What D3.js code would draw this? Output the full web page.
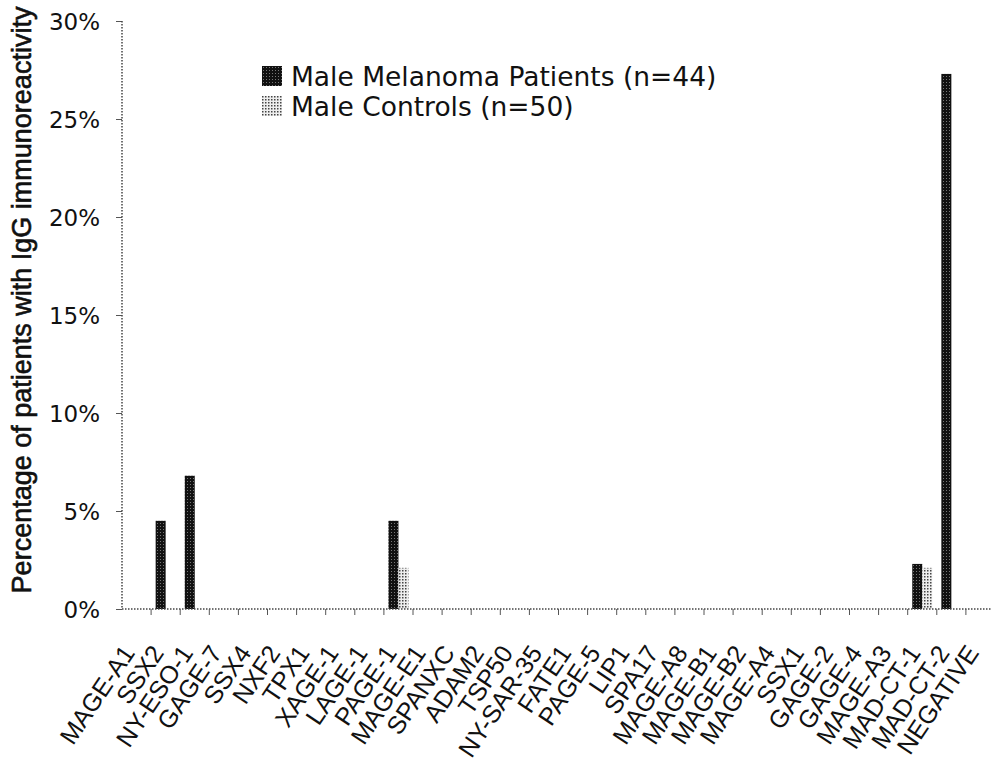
<!DOCTYPE html>
<html>
<head>
<meta charset="utf-8">
<script src="https://cdn.jsdelivr.net/npm/d3@7"></script>
<style>
  body { margin: 0; background: #fff; }
  text { font-family: 'DejaVu Sans', sans-serif; fill: #111; }
</style>
</head>
<body>
<script>
const antigens = [
  'MAGE-A1', 'SSX2', 'NY-ESO-1', 'GAGE-7', 'SSX4', 'NXF2', 'TPX1', 'XAGE-1',
  'LAGE-1', 'PAGE-1', 'MAGE-E1', 'SPANXC', 'ADAM2', 'TSP50', 'NY-SAR-35',
  'FATE1', 'PAGE-5', 'LIP1', 'SPA17', 'MAGE-A8', 'MAGE-B1', 'MAGE-B2',
  'MAGE-A4', 'SSX1', 'GAGE-2', 'GAGE-4', 'MAGE-A3', 'MAD-CT-1', 'MAD-CT-2',
  'NEGATIVE',
];

// fraction of patients
const patients = [
  0, 0.045, 0.068, 0, 0, 0, 0, 0, 0, 0.045, 0, 0, 0, 0, 0,
  0, 0, 0, 0, 0, 0, 0, 0, 0, 0, 0, 0, 0.023, 0.273, 0,
];
const controls = [
  0, 0, 0, 0, 0, 0, 0, 0, 0, 0.021, 0, 0, 0, 0, 0,
  0, 0, 0, 0, 0, 0, 0, 0, 0, 0, 0, 0, 0.021, 0, 0,
];

const seriesNames = ['Male Melanoma Patients (n=44)', 'Male Controls (n=50)'];
const yTicks = [0, 0.05, 0.1, 0.15, 0.2, 0.25, 0.3];

const w = 992;
const h = 761;

const svg = d3.select('body').append('svg').attr('width', w).attr('height', h);

// patterns for the two series
const defs = svg.append('defs');
const dark = defs
  .append('pattern')
  .attr('id', 'dark')
  .attr('width', 3)
  .attr('height', 3)
  .attr('patternUnits', 'userSpaceOnUse');
dark.append('rect').attr('width', 3).attr('height', 3).attr('fill', '#111');
dark.append('rect').attr('x', 1).attr('y', 1).attr('width', 1).attr('height', 1).attr('fill', '#777');

const light = defs
  .append('pattern')
  .attr('id', 'light')
  .attr('width', 3)
  .attr('height', 3)
  .attr('patternUnits', 'userSpaceOnUse');
light.append('rect').attr('width', 3).attr('height', 3).attr('fill', '#eee');
light.append('rect').attr('width', 1.5).attr('height', 1.5).attr('fill', '#444');

const fills = ['url(#dark)', 'url(#light)'];

const xScale = d3.scaleBand().domain(antigens).range([122, 995]);
const xInner = d3
  .scaleBand()
  .domain([0, 1])
  .range([0, xScale.bandwidth()])
  .paddingOuter(0.455);
const yScale = d3.scaleLinear().domain([0, 0.3]).range([609, 21]);

// y axis
const yAxis = d3
  .axisLeft(yScale)
  .tickValues(yTicks)
  .tickFormat(d3.format('.0%'))
  .tickSize(6)
  .tickPadding(16);

const yG = svg.append('g').attr('transform', 'translate(122,0)').call(yAxis);
yG.selectAll('text').style('font-size', '23px').attr('dy', '0.35em');
yG.selectAll('line').attr('stroke', '#555');
yG.select('.domain').remove();

svg
  .append('line')
  .attr('x1', 122)
  .attr('x2', 122)
  .attr('y1', yScale(0.3))
  .attr('y2', yScale(0))
  .attr('stroke', '#444')
  .attr('stroke-width', 1.5)
  .attr('stroke-dasharray', '1.5,1.5');

// bars
antigens.forEach((a, i) => {
  [patients[i], controls[i]].forEach((v, s) => {
    if (!v) return;
    svg
      .append('rect')
      .attr('x', xScale(a) + xInner(s))
      .attr('y', yScale(v))
      .attr('width', xInner.bandwidth())
      .attr('height', yScale(0) - yScale(v))
      .attr('fill', fills[s]);
  });
});

// x axis line and ticks
svg
  .append('line')
  .attr('x1', 122)
  .attr('x2', 995)
  .attr('y1', yScale(0))
  .attr('y2', yScale(0))
  .attr('stroke', '#444')
  .attr('stroke-width', 1.5)
  .attr('stroke-dasharray', '1.5,1.5');

svg
  .selectAll('.xtick')
  .data(antigens.slice(1))
  .enter()
  .append('line')
  .attr('class', 'xtick')
  .attr('x1', (d) => xScale(d))
  .attr('x2', (d) => xScale(d))
  .attr('y1', yScale(0))
  .attr('y2', yScale(0) + 6)
  .attr('stroke', '#555');

svg
  .selectAll('.xlabel')
  .data(antigens)
  .enter()
  .append('text')
  .attr('class', 'xlabel')
  .attr('text-anchor', 'end')
  .attr('dy', '0.35em')
  .style('font-family', 'Liberation Sans, Arial, sans-serif')
  .style('font-size', '25px')
  .attr('transform', (d) => {
    const cx = xScale(d) + xScale.bandwidth() / 2 - 8;
    return `translate(${cx},648) rotate(-56)`;
  })
  .text((d) => d);

// y axis title
svg
  .append('text')
  .attr('transform', 'translate(31,300) rotate(-90)')
  .attr('text-anchor', 'middle')
  .style('font-family', 'Liberation Sans, Arial, sans-serif')
  .style('font-size', '27px')
  .style('stroke', '#111')
  .style('stroke-width', 0.6)
  .text('Percentage of patients with IgG immunoreactivity');

// legend
const legend = svg.append('g').attr('transform', 'translate(262,66)');
seriesNames.forEach((name, i) => {
  legend
    .append('rect')
    .attr('x', 0)
    .attr('y', i * 30)
    .attr('width', 20)
    .attr('height', 20)
    .attr('fill', fills[i]);
  legend
    .append('text')
    .attr('x', 29)
    .attr('y', i * 30 + 20)
    .style('font-size', '26.5px')
    .text(name);
});
</script>
</body>
</html>
